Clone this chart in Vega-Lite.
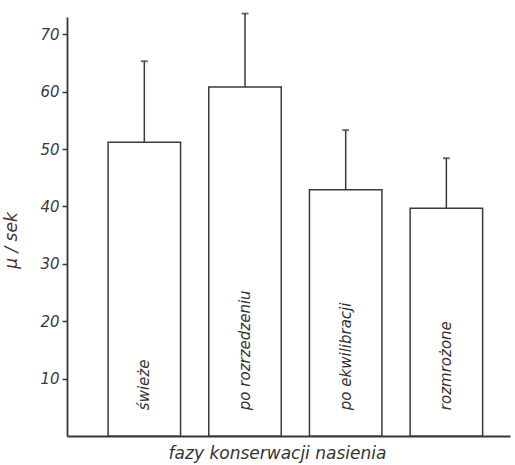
{
  "$schema": "https://vega.github.io/schema/vega-lite/v6.json",
  "width": 443,
  "height": 419,
  "autosize": {"type": "none"},
  "padding": {"left": 67, "top": 17, "right": 5, "bottom": 29},
  "background": "#ffffff",
  "config": {
    "view": {"stroke": null},
    "font": "DejaVu Sans"
  },
  "data": {
    "values": [
      {"faza": "świeże", "mean": 51.2, "upper": 65.3, "order": 1},
      {"faza": "po rozrzedzeniu", "mean": 60.8, "upper": 73.6, "order": 2},
      {"faza": "po ekwilibracji", "mean": 42.9, "upper": 53.3, "order": 3},
      {"faza": "rozmrożone", "mean": 39.7, "upper": 48.4, "order": 4}
    ]
  },
  "encoding": {
    "x": {
      "field": "faza",
      "type": "nominal",
      "sort": ["świeże", "po rozrzedzeniu", "po ekwilibracji", "rozmrożone"],
      "scale": {"paddingInner": 0.28, "paddingOuter": 0.34, "align": 0.6},
      "axis": {
        "title": "fazy konserwacji nasienia",
        "titleFont": "DejaVu Sans",
        "titleFontStyle": "italic",
        "titleFontWeight": "normal",
        "titleFontSize": 17,
        "titleColor": "#333333",
        "titlePadding": 9,
        "titleX": 210,
        "labels": false,
        "ticks": false,
        "domainColor": "#3a3530",
        "domainWidth": 1.8
      }
    }
  },
  "layer": [
    {
      "mark": {"type": "rule", "color": "#3a3a3a", "strokeWidth": 1.5},
      "encoding": {
        "y": {"field": "mean", "type": "quantitative"},
        "y2": {"field": "upper"}
      }
    },
    {
      "mark": {"type": "tick", "color": "#3a3a3a", "size": 7, "thickness": 2, "orient": "horizontal"},
      "encoding": {
        "y": {"field": "upper", "type": "quantitative"}
      }
    },
    {
      "mark": {"type": "bar", "fill": "#ffffff", "stroke": "#3a3a3a", "strokeWidth": 1.5},
      "encoding": {
        "y": {
          "field": "mean",
          "type": "quantitative",
          "scale": {"domain": [0, 73], "nice": false},
          "axis": {
            "title": "μ / sek",
            "titleFont": "DejaVu Sans",
            "titleFontStyle": "italic",
            "titleFontWeight": "normal",
            "titleFontSize": 17,
            "titleColor": "#4a3535",
            "titleY": 223,
            "titleX": -47,
            "values": [10, 20, 30, 40, 50, 60, 70],
            "labelFont": "DejaVu Sans",
            "labelFontStyle": "italic",
            "labelFontSize": 15,
            "labelColor": "#3a3a3a",
            "labelPadding": 3,
            "tickSize": 5,
            "tickColor": "#3a3a3a",
            "tickWidth": 1.5,
            "domainColor": "#3a3530",
            "domainWidth": 1.8,
            "grid": false
          }
        }
      }
    },
    {
      "mark": {
        "type": "text",
        "angle": 270,
        "align": "left",
        "baseline": "middle",
        "font": "DejaVu Sans",
        "fontStyle": "italic",
        "fontSize": 15,
        "color": "#333333"
      },
      "encoding": {
        "text": {"field": "faza"},
        "y": {"datum": 4.5, "type": "quantitative"}
      }
    }
  ]
}
